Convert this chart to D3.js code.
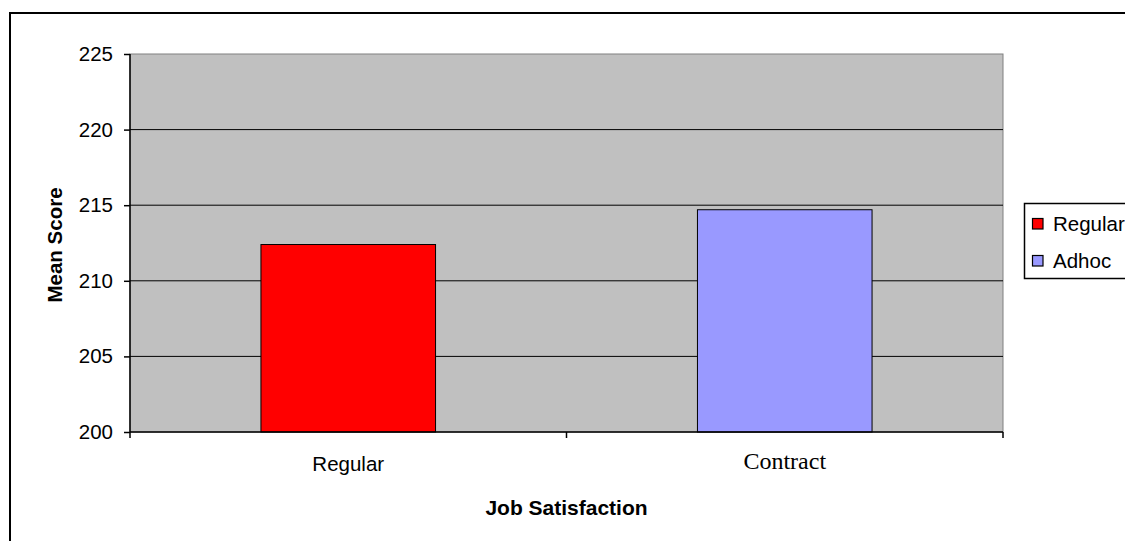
<!DOCTYPE html>
<html><head><meta charset="utf-8">
<script src="https://cdn.jsdelivr.net/npm/d3@7"></script>
<style>body{margin:0;background:#fff}svg{display:block}</style>
</head><body>
<svg id="c" width="1125" height="541"></svg>
<script>
const categories = ["Regular", "Contract"];
const seriesNames = ["Regular", "Adhoc"];
const values = [212.4, 214.7];
const colors = ["#ff0000", "#9999ff"];
const yTicks = [200, 205, 210, 215, 220, 225];

const svg = d3.select("#c");
const m = {left: 130, top: 54, right: 1003, bottom: 432};
const sans = "Liberation Sans, Arial, sans-serif";
const serif = "Liberation Serif, Times New Roman, serif";

// outer border
svg.append("rect").attr("x", 10).attr("y", 13).attr("width", 1130).attr("height", 540)
  .attr("fill", "#fff").attr("stroke", "#000").attr("stroke-width", 2);

const x = d3.scaleBand().domain(categories).range([m.left, m.right]).paddingInner(0).paddingOuter(0);
const y = d3.scaleLinear().domain([200, 225]).range([m.bottom, m.top]);

// plot area
svg.append("rect").attr("x", m.left).attr("y", m.top).attr("width", m.right - m.left).attr("height", m.bottom - m.top)
  .attr("fill", "#c0c0c0").attr("stroke", "#808080").attr("stroke-width", 1);

// gridlines
svg.append("g").selectAll("line").data(yTicks.slice(1, -1)).join("line")
  .attr("x1", m.left).attr("x2", m.right).attr("y1", d => y(d)).attr("y2", d => y(d))
  .attr("stroke", "#000").attr("stroke-width", 1);

// bars
const bw = x.bandwidth() * 0.4;
svg.append("g").selectAll("rect").data(values).join("rect")
  .attr("x", (d, i) => x(categories[i]) + (x.bandwidth() - bw) / 2)
  .attr("width", bw)
  .attr("y", d => y(d)).attr("height", d => y(200) - y(d))
  .attr("fill", (d, i) => colors[i]).attr("stroke", "#000").attr("stroke-width", 1);

// y axis
const ya = svg.append("g").attr("transform", `translate(${m.left},0)`)
  .call(d3.axisLeft(y).tickValues(yTicks).tickSize(6).tickPadding(11).tickFormat(d3.format("d")));
ya.select(".domain").attr("stroke", "#000").attr("stroke-width", 1.5).attr("d", `M0,${m.bottom}V${m.top}`);
ya.selectAll(".tick line").attr("stroke", "#000").attr("stroke-width", 1.5);
ya.selectAll("text").attr("font-family", sans).attr("font-size", 20.5).attr("fill", "#000");

// x axis
const xa = svg.append("g").attr("transform", `translate(0,${m.bottom})`)
  .call(d3.axisBottom(x).tickSize(0).tickPadding(0));
xa.select(".domain").remove();
xa.append("path").attr("d", `M${m.left},0H${m.right}`).attr("stroke", "#000").attr("stroke-width", 1.5);
const xt = [m.left, m.left + x.step(), m.right];
xa.selectAll(".xtick").data(xt).join("line").attr("class", "xtick")
  .attr("x1", d => d).attr("x2", d => d).attr("y1", 0).attr("y2", 6).attr("stroke", "#000").attr("stroke-width", 1.5);
xa.selectAll(".tick text").attr("fill", "#000").attr("dy", null)
  .attr("y", (d, i) => i === 0 ? 39 : 37)
  .attr("font-family", (d, i) => i === 0 ? sans : serif)
  .attr("font-size", (d, i) => i === 0 ? 20.5 : 24);

// axis titles
svg.append("text").attr("x", (m.left + m.right) / 2).attr("y", 515).attr("text-anchor", "middle")
  .attr("font-family", sans).attr("font-weight", "bold").attr("font-size", 21)
  .text("Job Satisfaction");
svg.append("text").attr("transform", `translate(62,245) rotate(-90)`).attr("text-anchor", "middle")
  .attr("font-family", sans).attr("font-weight", "bold").attr("font-size", 20.5)
  .text("Mean Score");

// legend
const lg = svg.append("g");
lg.append("rect").attr("x", 1024.5).attr("y", 203.5).attr("width", 130).attr("height", 75)
  .attr("fill", "#fff").attr("stroke", "#000").attr("stroke-width", 1.5);
const li = lg.selectAll("g.li").data(seriesNames).join("g").attr("class", "li")
  .attr("transform", (d, i) => `translate(1032,${218 + i * 37})`);
li.append("rect").attr("x", 0.5).attr("y", 0.5).attr("width", 10.5).attr("height", 10.5)
  .attr("fill", (d, i) => colors[i]).attr("stroke", "#000").attr("stroke-width", 1.2);
li.append("text").attr("x", 21).attr("y", 12.5).attr("font-family", sans)
  .attr("font-size", 20.5).attr("fill", "#000").text(d => d);
</script>
</body></html>
